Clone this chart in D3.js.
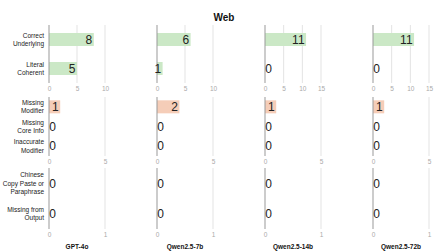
<!DOCTYPE html>
<html>
<head>
<meta charset="utf-8">
<script src="https://cdn.jsdelivr.net/npm/d3@7"></script>
<style>
  body { margin: 0; background: #fff; }
  svg { display: block; font-family: "Liberation Sans", Arial, sans-serif; }
</style>
</head>
<body>
<div id="chart"></div>
<script>
// data
const models = ["GPT-4o", "Qwen2.5-7b", "Qwen2.5-14b", "Qwen2.5-72b"];

const topCats = ["Correct\nUnderlying", "Literal\nCoherent"];
const topValues = [[8, 5], [6, 1], [11, 0], [11, 0]];
const topTicks = [[0, 5, 10], [0, 5, 10], [0, 5, 10, 15], [0, 5, 10, 15]];

const midCats = ["Missing\nModifier", "Missing\nCore Info", "Inaccurate\nModifier"];
const midValues = [[1, 0, 0], [2, 0, 0], [1, 0, 0], [1, 0, 0]];
const midTicks = [[0, 5], [0, 5], [0, 5], [0, 5]];

const botCats = ["Chinese\nCopy Paste or\nParaphrase", "Missing from\nOutput"];
const botValues = [[0, 0], [0, 0], [0, 0], [0, 0]];
const botTicks = [[0, 1], [0, 1], [0, 1], [0, 1]];

const width = 448, height = 252;
const svg = d3.select("#chart").append("svg")
    .attr("width", width)
    .attr("height", height);

svg.append("text")
    .attr("x", 224).attr("y", 21)
    .attr("text-anchor", "middle")
    .style("font-size", "10px")
    .style("font-weight", "bold")
    .attr("fill", "#111")
    .text("Web");

const colX = d3.scalePoint().domain(models).range([49, 373]);
const panelW = 56;
const barH = 13;

const rows = [
    {cats: topCats, values: topValues, ticks: topTicks, y0: 25, y1: 83, color: "#cbe8c6"},
    {cats: midCats, values: midValues, ticks: midTicks, y0: 97, y1: 156, color: "#f5cdb8"},
    {cats: botCats, values: botValues, ticks: botTicks, y0: 168, y1: 229, color: "#f5cdb8"}
];

rows.forEach(row => {
    const y = d3.scalePoint().domain(row.cats).range([row.y0, row.y1]).padding(0.5);

    // category labels on the left
    row.cats.forEach(c => {
        const lines = c.split("\n");
        const t = svg.append("text")
            .attr("text-anchor", "end")
            .style("font-size", "6.5px")
            .attr("fill", "#222");
        lines.forEach((l, i) => {
            t.append("tspan")
                .attr("x", 44)
                .attr("y", y(c) + (i - (lines.length - 1) / 2) * 8.2 + 2.3)
                .text(l);
        });
    });

    models.forEach((m, mi) => {
        const ticks = row.ticks[mi];
        const x0 = colX(m);
        const x = d3.scaleLinear().domain([0, d3.max(ticks)]).range([x0, x0 + panelW]);
        const g = svg.append("g");

        // grid
        g.selectAll(".grid").data(ticks.filter(d => d > 0)).join("line")
            .attr("x1", d => x(d)).attr("x2", d => x(d))
            .attr("y1", row.y0).attr("y2", row.y1)
            .attr("stroke", "#e3e3e3").attr("stroke-width", 1);

        // tick labels
        const ax = d3.axisBottom(x).tickValues(ticks).tickFormat(d3.format("d"))
            .tickSize(0).tickPadding(3);
        const axg = g.append("g").attr("transform", `translate(0,${row.y1})`).call(ax);
        axg.select(".domain").remove();
        axg.selectAll("text")
            .attr("fill", "#aaa")
            .style("font-size", "6.5px")
            .style("font-family", "Liberation Sans, Arial, sans-serif");

        // bars
        const vals = row.values[mi];
        g.selectAll(".bar").data(row.cats.map((c, i) => ({c, v: vals[i]})).filter(d => d.v > 0)).join("rect")
            .attr("x", x(0))
            .attr("y", d => y(d.c) - barH / 2)
            .attr("width", d => x(d.v) - x(0))
            .attr("height", barH)
            .attr("fill", row.color);

        // zero axis line
        g.append("line")
            .attr("x1", x(0)).attr("x2", x(0))
            .attr("y1", row.y0).attr("y2", row.y1)
            .attr("stroke", "#999").attr("stroke-width", 1);

        // value labels
        g.selectAll(".val").data(row.cats.map((c, i) => ({c, v: vals[i]}))).join("text")
            .attr("x", d => d.v > 0 ? x(d.v) - 1.5 : x(0) + 0.3)
            .attr("y", d => y(d.c))
            .attr("dy", "0.36em")
            .attr("text-anchor", d => d.v > 0 ? "end" : "start")
            .style("font-size", "12px")
            .attr("fill", "#222")
            .text(d => d.v);
    });
});

// column titles
svg.selectAll(".coltitle").data(models).join("text")
    .attr("x", d => colX(d) + panelW / 2)
    .attr("y", 249)
    .attr("text-anchor", "middle")
    .style("font-size", "6.5px")
    .style("font-weight", "bold")
    .attr("fill", "#111")
    .text(d => d);
</script>
</body>
</html>
